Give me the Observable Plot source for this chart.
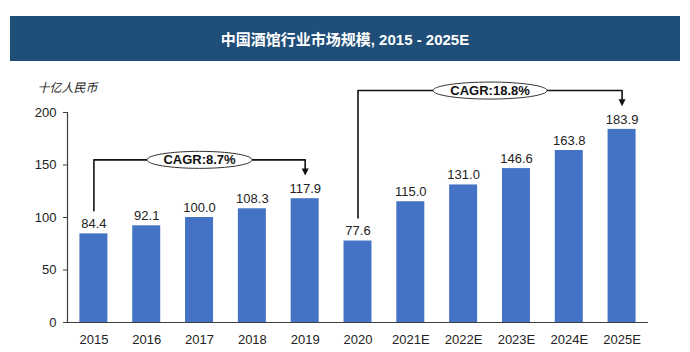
<!DOCTYPE html>
<html><head><meta charset="utf-8">
<script src="https://cdn.jsdelivr.net/npm/d3@7"></script>
<script src="https://cdn.jsdelivr.net/npm/@observablehq/plot@0.6"></script>
<style>
body{margin:0;background:#fff;width:690px;height:352px;overflow:hidden;font-family:"Liberation Sans",Arial,"Noto Sans CJK SC",sans-serif;}
#title{position:absolute;left:10px;top:16px;width:670px;height:45px;background:#1F4E79;color:#fff;font-weight:bold;font-size:15px;display:flex;align-items:center;justify-content:center;font-family:"Liberation Sans",Arial,"Noto Sans CJK SC",sans-serif;}
#chart{position:absolute;left:0;top:62px;}
</style></head><body>
<div id="title">中国酒馆行业市场规模, 2015 - 2025E</div>
<div id="chart"></div>
<script>
const years = ["2015","2016","2017","2018","2019","2020","2021E","2022E","2023E","2024E","2025E"];
const values = [84.4,92.1,100.0,108.3,117.9,77.6,115.0,131.0,146.6,163.8,183.9];
const yTicks = [0,50,100,150,200];
const unitLabel = "十亿人民币";
const cagrFrom = ["2015","2020"];
const cagrTo = ["2019","2025E"];
const cagrLabels = ["CAGR:8.7%","CAGR:18.8%"];

const data = years.map((y,i)=>({i, year:y, value:values[i]}));
const font = "'Liberation Sans', Arial, 'Noto Sans CJK SC', sans-serif";

// bracket geometry derived from data
const spans = cagrLabels.map((label,k)=>{
  const i0 = years.indexOf(cagrFrom[k]), i1 = years.indexOf(cagrTo[k]);
  const top = d3.max(values.slice(i0,i1+1)) + 37;
  return {label, i0, i1, v0:values[i0], v1:values[i1], top, mid:(i0+i1)/2};
});
const bracketPts = spans.flatMap(s=>[
  {z:s.label, x:s.i0, y:s.v0+22},
  {z:s.label, x:s.i0, y:s.top},
  {z:s.label, x:s.i1, y:s.top},
  {z:s.label, x:s.i1, y:s.v1+28}
]);

function ellipseSymbol(rx, ry){
  const k = 0.5523;
  return {draw(ctx){
    ctx.moveTo(rx,0);
    ctx.bezierCurveTo(rx, ry*k, rx*k, ry, 0, ry);
    ctx.bezierCurveTo(-rx*k, ry, -rx, ry*k, -rx, 0);
    ctx.bezierCurveTo(-rx, -ry*k, -rx*k, -ry, 0, -ry);
    ctx.bezierCurveTo(rx*k, -ry, rx, -ry*k, rx, 0);
    ctx.closePath();
  }};
}
const arrowSymbol = {draw(ctx){
  ctx.moveTo(-3.5,-7); ctx.lineTo(3.5,-7); ctx.lineTo(0,0); ctx.closePath();
}};

const chart = Plot.plot({
  width: 690, height: 290,
  marginTop: 50, marginBottom: 30, marginLeft: 67, marginRight: 42,
  style: {fontFamily: font, fontSize: "13px", color: "#222", background: "transparent", overflow: "visible"},
  x: {domain: [-0.5, years.length - 0.5]},
  y: {domain: [0, 200]},
  marks: [
    Plot.rectY(data, {x1: d=>d.i-0.265, x2: d=>d.i+0.265, y: "value", fill: "#4472C4"}),
    Plot.ruleY([0], {stroke: "#404040", strokeWidth: 1.2}),
    Plot.ruleX([-0.5], {y1: 0, y2: 200, stroke: "#404040", strokeWidth: 1.2}),
    Plot.axisX(data.map(d=>d.i), {tickFormat: i=>years[i], tickSize: 0, tickPadding: 12, label: null, fontSize: 13}),
    Plot.axisY(yTicks, {tickSize: 4, tickPadding: 7, label: null, stroke: "#404040", fontSize: 13}),
    Plot.text(data, {x: "i", y: "value", text: d=>d.value.toFixed(1), dy: -10, fontSize: 13, fill: "#222"}),
    Plot.text([unitLabel], {frameAnchor: "top-left", dx: -30, dy: -29, textAnchor: "start", fontStyle: "italic", fontSize: 12, fill: "#222"}),
    Plot.line(bracketPts, {x: "x", y: "y", z: "z", stroke: "#111", strokeWidth: 1.6, curve: "linear"}),
    Plot.dot(spans, {x: "i1", y: d=>d.v1+22, symbol: arrowSymbol, fill: "#111", r: 4}),
    ...spans.map(s => Plot.dot([s], {x: "mid", y: "top", symbol: ellipseSymbol(s.label.length*4.5+12, 8.5), fill: "#fff", stroke: "#333", strokeWidth: 1})),
    Plot.text(spans, {x: "mid", y: "top", text: "label", fontWeight: "bold", fontSize: 13, fill: "#111"})
  ]
});
document.getElementById("chart").appendChild(chart);
</script>
</body></html>
